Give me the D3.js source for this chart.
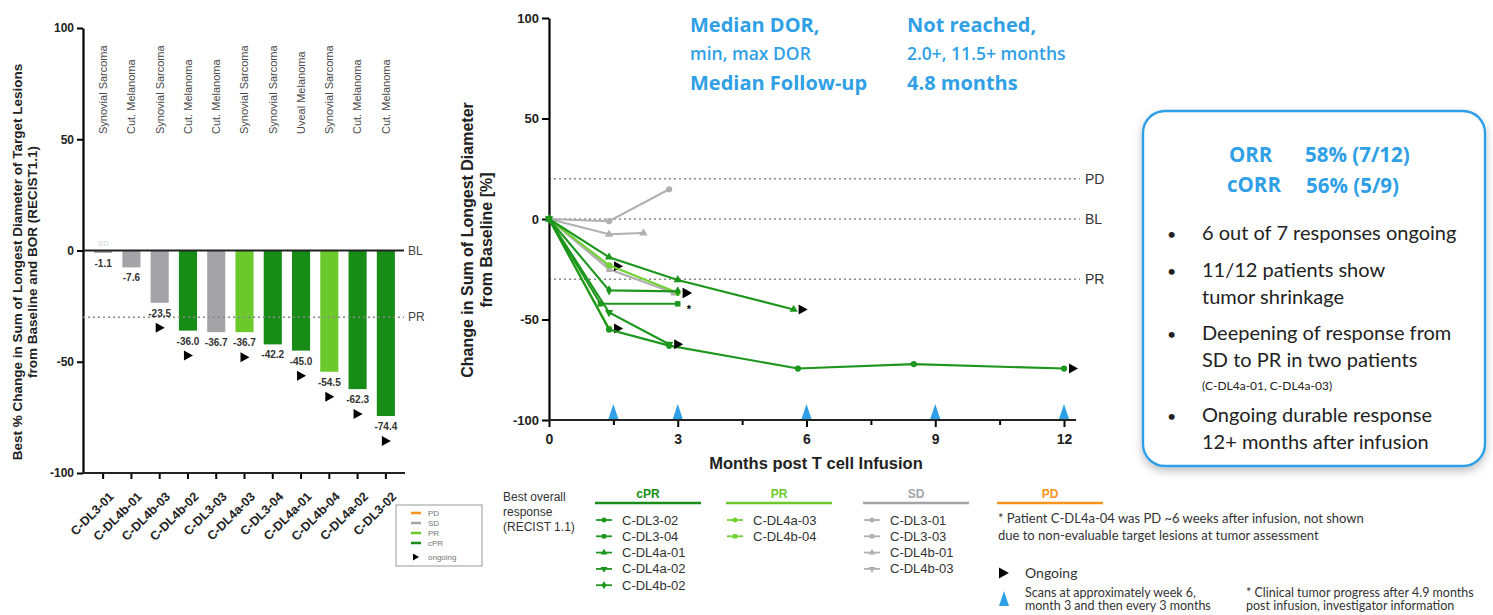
<!DOCTYPE html>
<html>
<head>
<meta charset="utf-8">
<script src="https://cdn.jsdelivr.net/npm/d3@7"></script>
<style>
  body { margin: 0; background: #fff; }
  svg { display: block; font-family: "Liberation Sans", Arial, sans-serif; }
  .cal { font-family: Lato, "Open Sans", sans-serif; }
  .os { font-family: "Open Sans", Lato, sans-serif; }
</style>
</head>
<body>
<div id="chart"></div>
<script>
// ---- Waterfall data (best % change, ordered as shown)
const patients = ["C-DL3-01", "C-DL4b-01", "C-DL4b-03", "C-DL4b-02", "C-DL3-03", "C-DL4a-03",
                  "C-DL3-04", "C-DL4a-01", "C-DL4b-04", "C-DL4a-02", "C-DL3-02"];
const tumorTypes = ["Synovial Sarcoma", "Cut. Melanoma", "Synovial Sarcoma", "Cut. Melanoma", "Cut. Melanoma",
                    "Synovial Sarcoma", "Synovial Sarcoma", "Uveal Melanoma", "Synovial Sarcoma", "Cut. Melanoma", "Cut. Melanoma"];
const bestChange = [-1.1, -7.6, -23.5, -36.0, -36.7, -36.7, -42.2, -45.0, -54.5, -62.3, -74.4];
const bestResponse = ["SD", "SD", "SD", "cPR", "SD", "PR", "cPR", "cPR", "PR", "cPR", "cPR"];
const ongoing = [false, false, true, true, false, true, false, true, true, true, true];
const waterfallTicks = [-100, -50, 0, 50, 100];

// ---- Spider data (months post infusion vs % change)
const spiderIds = ["C-DL3-01", "C-DL3-03", "C-DL4b-01", "C-DL4b-03",
                   "C-DL4a-03", "C-DL4b-04",
                   "C-DL3-02", "C-DL3-04", "C-DL4a-01", "C-DL4a-02", "C-DL4b-02"];
const spiderBor = ["SD", "SD", "SD", "SD", "PR", "PR", "cPR", "cPR", "cPR", "cPR", "cPR"];
const spiderMonths = [
  [0, 1.4, 2.8], [0, 1.4, 2.9], [0, 1.4, 2.2], [0, 1.4],
  [0, 1.4, 3.0], [0, 1.4],
  [0, 1.4, 2.8, 5.8, 8.5, 12.0], [0, 1.2, 3.0], [0, 1.4, 3.0, 5.7], [0, 1.4, 2.8], [0, 1.4, 3.0]
];
const spiderChange = [
  [0, -1.1, 14.8], [0, -25, -36.7], [0, -7.6, -7.0], [0, -23.5],
  [0, -23, -36.7], [0, -54.5],
  [0, -55, -63, -74.4, -72.2, -74.4], [0, -42.2, -42.2], [0, -19, -30.3, -45.0], [0, -46.5, -62.3], [0, -35.5, -36.0]
];
const spiderOngoing = [false, false, false, true, true, true, true, false, true, true, true];
const spiderMarker = ["circle", "square", "triangle", "triangleDown", "circle", "square",
                      "circle", "square", "triangle", "triangleDown", "diamond"];
const scanMonths = [1.5, 3, 6, 9, 12];
const monthTicks = [0, 1.5, 3, 4.5, 6, 7.5, 9, 10.5, 12];
const refLines = [["PD", 20], ["BL", 0], ["PR", -30]];

const legendGroups = [
  ["cPR", ["C-DL3-02", "C-DL3-04", "C-DL4a-01", "C-DL4a-02", "C-DL4b-02"]],
  ["PR", ["C-DL4a-03", "C-DL4b-04"]],
  ["SD", ["C-DL3-01", "C-DL3-03", "C-DL4b-01", "C-DL4b-03"]],
  ["PD", []]
];

const colors = { cPR: "#178c17", PR: "#6cc92c", SD: "#a4a4a8", PD: "#f7941d" };
const lineColors = { cPR: "#1c961c", PR: "#72d234", SD: "#b0b0b0" };
const blue = "#2f9fe6";
const plain = d => String(d);

const svg = d3.select("#chart").append("svg")
  .attr("width", 1493).attr("height", 615);

const symbolType = {
  circle: d3.symbolCircle, square: d3.symbolSquare, triangle: d3.symbolTriangle,
  triangleDown: d3.symbolTriangle, diamond: d3.symbolDiamond
};
function marker(sel, name, size) {
  sel.append("path")
    .attr("d", d3.symbol(symbolType[name], size)())
    .attr("transform", name === "triangleDown" ? "rotate(180)" : null);
}
const arrowPath = "M0,-5L9,0L0,5Z";

// =================== Waterfall ===================
const xW = d3.scaleBand().domain(patients).range([89, 400]).paddingInner(0.36).paddingOuter(0.18);
const yW = d3.scaleLinear().domain([-100, 100]).range([473, 28]);

const wf = svg.append("g");

// y axis
const yAxisW = wf.append("g").attr("transform", "translate(83,0)")
  .call(d3.axisLeft(yW).tickValues(waterfallTicks).tickFormat(plain).tickSize(6).tickSizeOuter(0));
yAxisW.select(".domain").attr("stroke-width", 2.2);
yAxisW.selectAll(".tick line").attr("stroke-width", 2);
yAxisW.selectAll("text").attr("font-size", 12).attr("font-weight", "bold").attr("fill", "#222");

// x axis
const xAxisW = wf.append("g").attr("transform", "translate(0,473)")
  .call(d3.axisBottom(xW).tickSize(6).tickSizeOuter(0));
xAxisW.select(".domain").remove();
xAxisW.append("line").attr("x1", 82).attr("x2", 405).attr("stroke", "#222").attr("stroke-width", 2.2);
xAxisW.selectAll(".tick line").attr("stroke-width", 2);
xAxisW.selectAll(".tick text")
  .attr("font-size", 12.5).attr("font-weight", "bold").attr("fill", "#222")
  .attr("text-anchor", "end").attr("dy", 0)
  .attr("transform", "translate(5,18) rotate(-45)");

// y title
const ytW = wf.append("g").attr("transform", "translate(22,262) rotate(-90)")
  .attr("font-size", 13.5).attr("font-weight", "bold").attr("fill", "#222").attr("text-anchor", "middle");
ytW.append("text").text("Best % Change in Sum of Longest Diameter of Target Lesions");
ytW.append("text").attr("y", 15).text("from Baseline and BOR (RECIST1.1)");

// bars
wf.selectAll("rect.bar").data(patients).join("rect")
  .attr("class", "bar")
  .attr("x", d => xW(d))
  .attr("y", yW(0))
  .attr("width", xW.bandwidth())
  .attr("height", (d, i) => yW(bestChange[i]) - yW(0))
  .attr("fill", (d, i) => colors[bestResponse[i]]);

// baseline and PR lines
wf.append("line").attr("x1", 83).attr("x2", 404).attr("y1", yW(0)).attr("y2", yW(0))
  .attr("stroke", "#222").attr("stroke-width", 1.8);
wf.append("line").attr("x1", 83).attr("x2", 404).attr("y1", yW(-30)).attr("y2", yW(-30))
  .attr("stroke", "#888").attr("stroke-width", 1.5).attr("stroke-dasharray", "2,3");
wf.append("text").attr("x", 408).attr("y", yW(0)).attr("dy", "0.35em")
  .attr("font-size", 12).attr("fill", "#444").text("BL");
wf.append("text").attr("x", 408).attr("y", yW(-30)).attr("dy", "0.35em")
  .attr("font-size", 12).attr("fill", "#444").text("PR");
wf.append("text").attr("x", xW(patients[0]) + xW.bandwidth() / 2).attr("y", yW(0) - 5)
  .attr("text-anchor", "middle").attr("font-size", 8).attr("fill", "#d4d4d4").text("SD");

// value labels
wf.selectAll("text.val").data(patients).join("text")
  .attr("class", "val")
  .attr("x", d => xW(d) + xW.bandwidth() / 2)
  .attr("y", (d, i) => yW(bestChange[i]) + 14)
  .attr("text-anchor", "middle").attr("font-size", 10).attr("font-weight", "bold").attr("fill", "#333")
  .text((d, i) => bestChange[i].toFixed(1));

// ongoing arrows
wf.selectAll("path.ong").data(patients.filter((d, i) => ongoing[i])).join("path")
  .attr("class", "ong")
  .attr("d", arrowPath)
  .attr("transform", d => {
    const i = patients.indexOf(d);
    return "translate(" + (xW(d) + xW.bandwidth() / 2 - 4) + "," + (yW(bestChange[i]) + 25) + ")";
  });

// tumour type labels
wf.selectAll("text.tumor").data(patients).join("text")
  .attr("class", "tumor")
  .attr("transform", d => "translate(" + (xW(d) + xW.bandwidth() / 2) + ",134) rotate(-90)")
  .attr("dy", "0.35em").attr("font-size", 11).attr("fill", "#4a4a4a")
  .text((d, i) => tumorTypes[i]);

// small legend box
const wl = wf.append("g").attr("transform", "translate(396,505)");
wl.append("rect").attr("width", 86).attr("height", 61).attr("fill", "#fff")
  .attr("stroke", "#aaa").attr("stroke-width", 1.2);
["PD", "SD", "PR", "cPR"].forEach((k, i) => {
  wl.append("line").attr("x1", 15).attr("x2", 25).attr("y1", 8 + i * 10).attr("y2", 8 + i * 10)
    .attr("stroke", colors[k]).attr("stroke-width", 2.5);
  wl.append("text").attr("x", 32).attr("y", 8 + i * 10).attr("dy", "0.35em")
    .attr("font-size", 8).attr("fill", "#777").text(k);
});
wl.append("path").attr("d", "M0,-3.5L6,0L0,3.5Z").attr("transform", "translate(17,52)");
wl.append("text").attr("x", 32).attr("y", 52).attr("dy", "0.35em")
  .attr("font-size", 8).attr("fill", "#777").text("ongoing");

// =================== Spider plot ===================
const xS = d3.scaleLinear().domain([0, 12]).range([549, 1064]);
const yS = d3.scaleLinear().domain([-100, 100]).range([420, 18]);
const sp = svg.append("g");

// reference lines
refLines.forEach(([lab, v]) => {
  sp.append("line").attr("x1", xS(0)).attr("x2", 1080).attr("y1", yS(v)).attr("y2", yS(v))
    .attr("stroke", "#888").attr("stroke-width", 1.6).attr("stroke-dasharray", "2,3");
  sp.append("text").attr("x", 1085).attr("y", yS(v)).attr("dy", "0.35em")
    .attr("font-size", 14).attr("fill", "#333").text(lab);
});

// axes
const yAxisS = sp.append("g").attr("transform", "translate(" + xS(0) + ",0)")
  .call(d3.axisLeft(yS).tickValues(waterfallTicks).tickFormat(plain).tickSize(7).tickSizeOuter(0));
yAxisS.select(".domain").attr("stroke-width", 2.2);
yAxisS.selectAll(".tick line").attr("stroke-width", 2);
yAxisS.selectAll("text").attr("font-size", 13).attr("font-weight", "bold").attr("fill", "#222");

const xAxisS = sp.append("g").attr("transform", "translate(0," + yS(-100) + ")")
  .call(d3.axisBottom(xS).tickValues(monthTicks).tickFormat(d => d % 3 === 0 ? d : "").tickSize(7).tickSizeOuter(0));
xAxisS.select(".domain").remove();
xAxisS.append("line").attr("x1", xS(0) - 1).attr("x2", 1076).attr("stroke", "#222").attr("stroke-width", 2.2);
xAxisS.selectAll(".tick line").attr("stroke-width", 2).attr("y2", d => d % 3 === 0 ? 7 : 5);
xAxisS.selectAll("text").attr("font-size", 14).attr("font-weight", "bold").attr("fill", "#222").attr("dy", "1em");

sp.append("text").attr("x", 816).attr("y", 469).attr("text-anchor", "middle")
  .attr("font-size", 16.5).attr("font-weight", "bold").attr("fill", "#222")
  .text("Months post T cell Infusion");
const ytS = sp.append("g").attr("transform", "translate(473,240) rotate(-90)")
  .attr("font-size", 16).attr("font-weight", "bold").attr("fill", "#222").attr("text-anchor", "middle");
ytS.append("text").text("Change in Sum of Longest Diameter");
ytS.append("text").attr("y", 19).text("from Baseline [%]");

// scan triangles
sp.selectAll("path.scan").data(scanMonths).join("path")
  .attr("class", "scan")
  .attr("d", d => "M" + (xS(d) - 5) + "," + (yS(-100) - 1) + "L" + xS(d) + "," + (yS(-100) - 16) + "L" + (xS(d) + 5) + "," + (yS(-100) - 1) + "Z")
  .attr("fill", blue);

// series lines
const line = d3.line().x(d => xS(d[0])).y(d => yS(d[1]));
spiderIds.forEach((id, i) => {
  const pts = spiderMonths[i].map((m, j) => [m, spiderChange[i][j]]);
  const c = lineColors[spiderBor[i]];
  const g = sp.append("g").attr("fill", c).attr("stroke", c);
  g.append("path").attr("d", line(pts)).attr("fill", "none").attr("stroke-width", 2.1);
  pts.forEach(p => {
    const m = g.append("g").attr("transform", "translate(" + xS(p[0]) + "," + yS(p[1]) + ")").attr("stroke", "none");
    marker(m, spiderMarker[i], 30);
  });
  const last = pts[pts.length - 1];
  if (spiderOngoing[i]) {
    sp.append("path").attr("d", arrowPath)
      .attr("transform", "translate(" + (xS(last[0]) + 5) + "," + (yS(last[1]) + (id === "C-DL4b-02" ? 2 : 0)) + ")");
  }
  if (id === "C-DL3-04") {
    sp.append("text").attr("x", xS(last[0]) + 9).attr("y", yS(last[1]) + 9)
      .attr("font-size", 11).attr("font-weight", "bold").text("*");
  }
});

// header text
const hdr = svg.append("g").attr("class", "os").attr("fill", blue);
hdr.append("text").attr("x", 690).attr("y", 32).attr("font-size", 20).attr("font-weight", "bold").text("Median DOR,");
hdr.append("text").attr("x", 690).attr("y", 60).attr("font-size", 17.5).attr("font-weight", 600).text("min, max DOR");
hdr.append("text").attr("x", 690).attr("y", 90).attr("font-size", 20).attr("font-weight", "bold").text("Median Follow-up");
hdr.append("text").attr("x", 907).attr("y", 32).attr("font-size", 20).attr("font-weight", "bold").text("Not reached,");
hdr.append("text").attr("x", 907).attr("y", 60).attr("font-size", 17.5).attr("font-weight", 600).text("2.0+, 11.5+ months");
hdr.append("text").attr("x", 907).attr("y", 90).attr("font-size", 20).attr("font-weight", "bold").text("4.8 months");

// =================== Spider legend ===================
const lg = svg.append("g");
const bo = lg.append("text").attr("x", 503).attr("font-size", 12).attr("fill", "#333");
["Best overall", "response", "(RECIST 1.1)"].forEach((t, i) =>
  bo.append("tspan").attr("x", 503).attr("y", 501 + i * 15).text(t));

const colX = [595, 726, 863, 997];
legendGroups.forEach(([k, ids], gi) => {
  const x0 = colX[gi];
  lg.append("text").attr("x", x0 + 53).attr("y", 498).attr("text-anchor", "middle")
    .attr("font-size", 12).attr("font-weight", "bold").attr("fill", colors[k]).text(k);
  lg.append("line").attr("x1", x0).attr("x2", x0 + 106).attr("y1", 503).attr("y2", 503)
    .attr("stroke", colors[k]).attr("stroke-width", 2.5);
  ids.forEach((id, j) => {
    const i = spiderIds.indexOf(id);
    const y = 520 + j * 16.3;
    const c = lineColors[spiderBor[i]];
    lg.append("line").attr("x1", x0 + 1).attr("x2", x0 + 17).attr("y1", y).attr("y2", y)
      .attr("stroke", c).attr("stroke-width", 1.8);
    const m = lg.append("g").attr("transform", "translate(" + (x0 + 9) + "," + y + ")").attr("fill", c);
    marker(m, spiderMarker[i], 20);
    lg.append("text").attr("x", x0 + 27).attr("y", y).attr("dy", "0.35em")
      .attr("font-size", 13).attr("fill", "#333").text(id);
  });
});

// footnotes
const fn = svg.append("g").attr("class", "cal").attr("fill", "#333");
fn.append("text").attr("x", 998).attr("y", 523).attr("font-size", 13).text("* Patient C-DL4a-04 was PD ~6 weeks after infusion, not shown");
fn.append("text").attr("x", 998).attr("y", 540).attr("font-size", 13).text("due to non-evaluable target lesions at tumor assessment");
fn.append("path").attr("d", arrowPath).attr("fill", "#000").attr("transform", "translate(999,573) scale(1.1)");
fn.append("text").attr("x", 1025).attr("y", 578).attr("font-size", 14).text("Ongoing");
fn.append("path").attr("d", "M999,606L1004,591L1009,606Z").attr("fill", blue);
fn.append("text").attr("x", 1025).attr("y", 597).attr("font-size", 12.5).text("Scans at approximately week 6,");
fn.append("text").attr("x", 1025).attr("y", 610).attr("font-size", 12.5).text("month 3 and then every 3 months");
fn.append("text").attr("x", 1246).attr("y", 597).attr("font-size", 12.5).text("* Clinical tumor progress after 4.9 months");
fn.append("text").attr("x", 1246).attr("y", 610).attr("font-size", 12.5).text("post infusion, investigator information");

// =================== Summary box ===================
const defs = svg.append("defs");
const f = defs.append("filter").attr("id", "shadow").attr("x", "-10%").attr("y", "-10%").attr("width", "130%").attr("height", "130%");
f.append("feDropShadow").attr("dx", 0).attr("dy", 4).attr("stdDeviation", 4).attr("flood-color", "#000").attr("flood-opacity", 0.25);

const box = svg.append("g").attr("class", "cal");
box.append("rect").attr("x", 1143).attr("y", 111).attr("width", 342).attr("height", 355)
  .attr("rx", 22).attr("fill", "#fff").attr("stroke", blue).attr("stroke-width", 2.4)
  .attr("filter", "url(#shadow)");
const stat = box.append("g").attr("class", "os").attr("font-size", 20.5).attr("font-weight", "bold").attr("fill", blue);
stat.append("text").attr("x", 1229).attr("y", 162).text("ORR");
stat.append("text").attr("x", 1305).attr("y", 162).text("58% (7/12)");
stat.append("text").attr("x", 1227).attr("y", 192).text("cORR");
stat.append("text").attr("x", 1306).attr("y", 193).text("56% (5/9)");

const bullets = [
  [240, ["6 out of 7 responses ongoing"]],
  [277, ["11/12 patients show", "tumor shrinkage"]],
  [340, ["Deepening of response from", "SD to PR in two patients"]],
  [422, ["Ongoing durable response", "12+ months after infusion"]]
];
bullets.forEach(([y, lines]) => {
  box.append("text").attr("x", 1167).attr("y", y).attr("font-size", 16).attr("fill", "#222").text("•");
  lines.forEach((t, j) => box.append("text").attr("x", 1202).attr("y", y + j * 26.5)
    .attr("font-size", 20).attr("fill", "#222").text(t));
});
box.append("text").attr("x", 1202).attr("y", 390).attr("font-size", 12).attr("fill", "#222").text("(C-DL4a-01, C-DL4a-03)");
</script>
</body>
</html>
